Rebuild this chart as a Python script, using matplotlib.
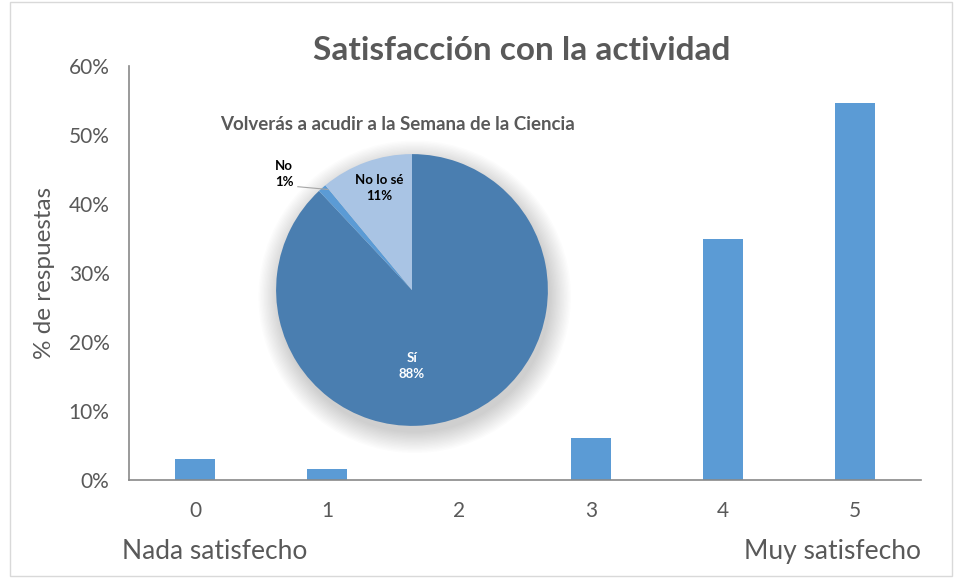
import matplotlib.pyplot as plt
from matplotlib.patches import Circle, Rectangle
from matplotlib.ticker import PercentFormatter

# bar chart data
categories = ["0", "1", "2", "3", "4", "5"]
satisfaction = [3.0, 1.6, 0.0, 6.1, 34.9, 54.6]

# pie inset data
pie_labels = ["Sí", "No", "No lo sé"]
pie_values = [88, 1, 11]
pie_colors = ["#4a7eb0", "#5b9bd5", "#a9c4e4"]

plt.rcParams['font.family'] = ['Lato', 'DejaVu Sans']
grey = "#595959"

fig = plt.figure(figsize=(9.57, 5.78), dpi=100)
fig.patches.append(Rectangle((0.010, 0.004), 0.985, 0.992, transform=fig.transFigure,
                             fill=False, edgecolor="#d9d9d9", linewidth=1))

ax = fig.add_axes([0.1348, 0.1696, 0.8276, 0.7162])
x = range(len(categories))
ax.bar(x, satisfaction, width=0.31, color="#5b9bd5")
ax.set_xlim(-0.5, 5.5)
ax.set_ylim(0, 60)
ax.set_yticks(range(0, 61, 10))
ax.yaxis.set_major_formatter(PercentFormatter(decimals=0))
ax.set_xticks(list(x))
ax.set_xticklabels(categories)
ax.tick_params(length=0, labelsize=15, colors=grey)
ax.tick_params(axis='y', pad=14)
ax.tick_params(axis='x', pad=15)
for s in ["top", "right"]:
    ax.spines[s].set_visible(False)
for s in ["left", "bottom"]:
    ax.spines[s].set_color("#898989")
    ax.spines[s].set_linewidth(1.2)
ax.set_ylabel("% de respuestas", fontsize=17.5, color=grey, labelpad=10)

fig.text(0.545, 0.912, "Satisfacción con la actividad", ha="center", va="center",
         fontsize=24, fontweight="bold", color=grey)
fig.text(0.128, 0.045, "Nada satisfecho", ha="left", va="center", fontsize=19, color=grey)
fig.text(0.962, 0.045, "Muy satisfecho", ha="right", va="center", fontsize=19, color=grey)

# inset pie with a soft shadow
pax = fig.add_axes([0.4305 - 0.142, 0.4983 - 0.2353, 0.284, 0.4706])
for i in range(16):
    r = 1.0 + 0.01 * i
    pax.add_patch(Circle((0.02, -0.05), r, color="black", alpha=0.012, lw=0,
                         zorder=0, clip_on=False))
wedges, _ = pax.pie(pie_values, colors=pie_colors, startangle=90, counterclock=False,
                    radius=1.0, wedgeprops=dict(linewidth=0))
for w in wedges:
    w.set_zorder(2)
pax.set_aspect("equal")
pax.set_xlim(-1.15, 1.15)
pax.set_ylim(-1.15, 1.15)
pax.set_position([0.4305 - 0.142 * 1.15, 0.4983 - 0.2353 * 1.15, 0.284 * 1.15, 0.4706 * 1.15])
pax.axis("off")

pax.text(0.0, -0.56, "Sí\n88%", ha="center", va="center", fontsize=9.5,
         fontweight="bold", color="white", zorder=3, linespacing=1.4)
pax.text(-0.24, 0.75, "No lo sé\n11%", ha="center", va="center", fontsize=9.5,
         fontweight="bold", color="black", zorder=3, linespacing=1.4)
pax.text(-0.94, 0.85, "No\n1%", ha="center", va="center", fontsize=9.5,
         fontweight="bold", color="black", zorder=3, linespacing=1.4)
pax.plot([-0.84, -0.62], [0.76, 0.74], color="#a6a6a6", lw=0.8, zorder=3)

fig.text(0.415, 0.784, "Volverás a acudir a la Semana de la Ciencia", ha="center", va="center",
         fontsize=13.5, fontweight="bold", color=grey)

fig.savefig("out.png", dpi=100)
